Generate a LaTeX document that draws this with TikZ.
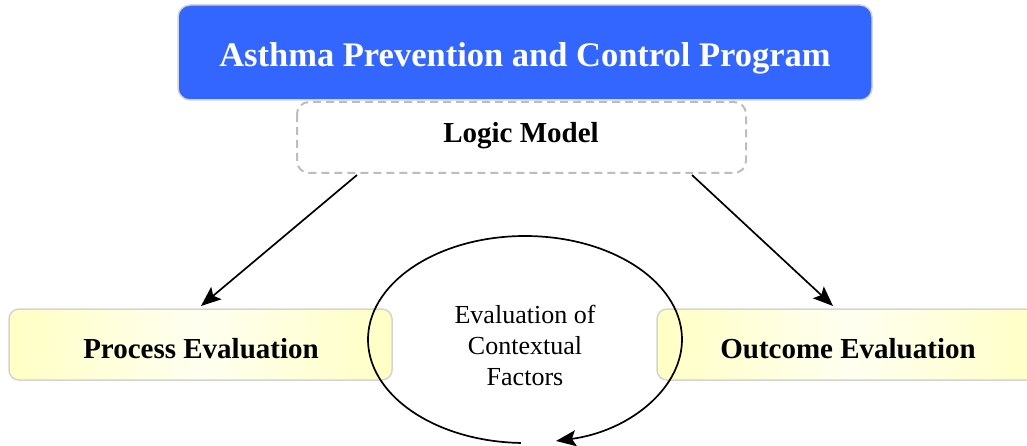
\documentclass[tikz,border=0pt]{standalone}
\usepackage{fontspec}
\setmainfont{Liberation Serif}
\usetikzlibrary{arrows.meta,shapes.geometric}
\definecolor{titleblue}{HTML}{3366FF}
\definecolor{boxgray}{HTML}{D4D4D4}
\definecolor{dashgray}{HTML}{BDBDBD}
\definecolor{paleyel}{HTML}{FFFFC4}
\tikzset{
  titlebox/.style={draw=boxgray, line width=1.5pt, fill=titleblue, rounded corners=12pt},
  logicbox/.style={draw=dashgray, line width=2pt, dash pattern=on 8pt off 5pt, fill=white, rounded corners=12pt},
  evalbox/.style={draw=boxgray, line width=1.5pt, rounded corners=10pt, left color=paleyel, right color=paleyel, middle color=paleyel!25!white},
  tipstyle/.style={-{Stealth[length=20pt,width=16pt,inset=4pt]}},
  conn/.style={line width=1.7pt, tipstyle},
  boldtxt/.style={font=\fontsize{29}{34}\selectfont\bfseries, inner sep=0pt, anchor=base},
}
\begin{document}
\begin{tikzpicture}[x=1pt,y=1pt]
\useasboundingbox (0,0) rectangle (1027,-446);
% title box
\path[titlebox] (178,-5) rectangle (872,-100);
\node[font=\fontsize{34.5}{40}\selectfont\bfseries, text=white, inner sep=0pt, anchor=base] (title) at (525,-66.7) {Asthma Prevention and Control Program};
% logic model
\path[logicbox] (297,-102) rectangle (746,-173);
\node[boldtxt] (logic) at (521,-143) {Logic Model};
\coordinate (lmL) at (357,-175);
\coordinate (lmR) at (692,-175);
% evaluation boxes
\path[evalbox] (9,-309) rectangle (392,-380);
\node[boldtxt] (proc) at (201,-358) {Process Evaluation};
\path[evalbox] (657,-309) rectangle (1045,-380);
\node[boldtxt] (outc) at (848,-358) {Outcome Evaluation};
\coordinate (procTop) at (201,-306);
\coordinate (outcTop) at (833,-306);
% connectors
\draw[conn] (lmL) -- (procTop);
\draw[conn] (lmR) -- (outcTop);
% contextual cycle
\node[ellipse, minimum width=314pt, minimum height=207pt, inner sep=0pt] (ctx) at (525,-339.5) {};
\draw[line width=1.7pt, tipstyle]
  ([shift={(268.5:157pt and 103.5pt)}]ctx.center) arc[start angle=268.5, end angle=-78.6, x radius=157pt, y radius=103.5pt];
\node[font=\fontsize{26}{31}\selectfont, align=center, inner sep=0pt] (ctxtext) at (525,-345) {Evaluation of\\Contextual\\Factors};
\end{tikzpicture}
\end{document}
